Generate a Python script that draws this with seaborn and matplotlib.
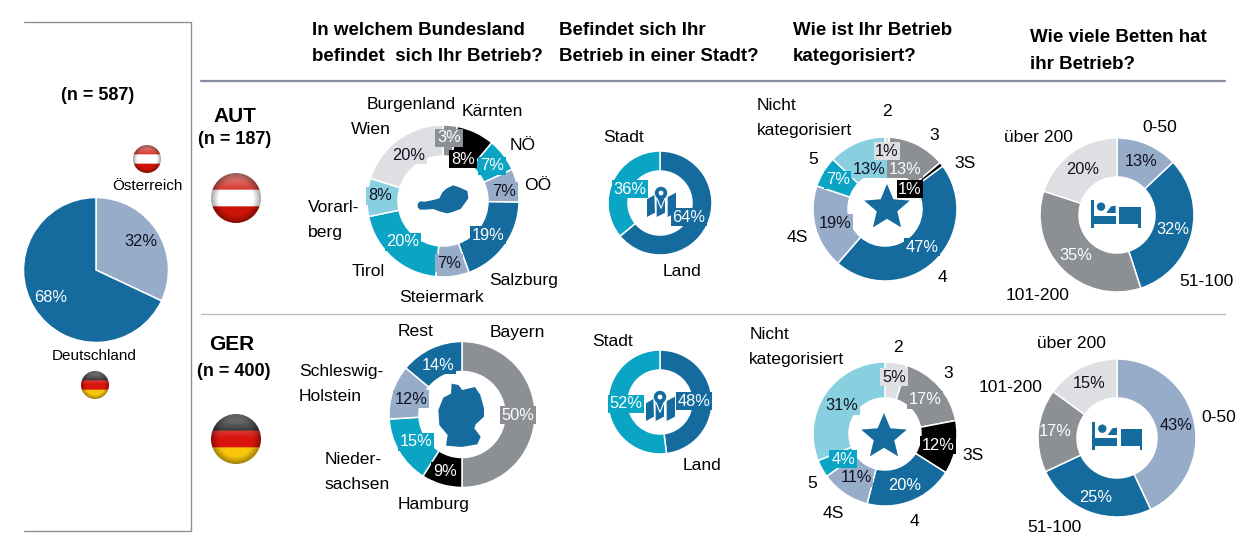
import numpy as np
import seaborn as sns
import matplotlib
matplotlib.use("Agg")
import matplotlib.pyplot as plt
from matplotlib.patches import Circle, Polygon, PathPatch, Rectangle
from matplotlib.path import Path
from matplotlib.transforms import Affine2D

# ---------- data ----------
total_labels = ["Österreich", "Deutschland"]
total_values = [32, 68]

aut_land_labels = ["Burgenland", "Kärnten", "NÖ", "OÖ", "Salzburg", "Steiermark", "Tirol", "Vorarl-\nberg", "Wien"]
aut_land_values = [3, 8, 7, 7, 19, 7, 20, 8, 20]
ger_land_labels = ["Bayern", "Hamburg", "Nieder-\nsachsen", "Schleswig-\nHolstein", "Rest"]
ger_land_values = [50, 9, 15, 12, 14]

stadt_labels = ["Land", "Stadt"]
aut_stadt_values = [64, 36]
ger_stadt_values = [48, 52]

kat_labels = ["2", "3", "3S", "4", "4S", "5", "Nicht\nkategorisiert"]
aut_kat_values = [1, 13, 1, 47, 19, 7, 13]
ger_kat_values = [5, 17, 12, 20, 11, 4, 31]

betten_labels = ["0-50", "51-100", "101-200", "über 200"]
aut_betten_values = [13, 32, 35, 20]
ger_betten_values = [43, 25, 17, 15]

headers = ["In welchem Bundesland\nbefindet  sich Ihr Betrieb?",
           "Befindet sich Ihr\nBetrieb in einer Stadt?",
           "Wie ist Ihr Betrieb\nkategorisiert?",
           "Wie viele Betten hat\nihr Betrieb?"]

# ---------- style ----------
sns.set_theme(style="white")
plt.rcParams["font.family"] = ["Liberation Sans", "DejaVu Sans"]

W, H = 1255, 550
BLUE, STEEL, TEAL, SKY, GREY, LIGHT, BLACK = sns.color_palette(
    ["#156B9E", "#97ACC8", "#0AA5C4", "#88CFE0", "#8C8F94", "#DEDFE2", "#000000"])

fig = plt.figure(figsize=(W / 100, H / 100), dpi=100, facecolor="white")


def donut(values, colors, cx, cy, r, inner=None):
    pad = 1.03
    ax = fig.add_axes([(cx - r * pad) / W, 1 - (cy + r * pad) / H, 2 * r * pad / W, 2 * r * pad / H])
    width = 1 if inner is None else 1 - inner / r
    ax.pie(values, colors=colors, startangle=90, counterclock=False, radius=1,
           wedgeprops=dict(width=width, edgecolor="white", linewidth=1.1))
    ax.set_xlim(-pad, pad)
    ax.set_ylim(-pad, pad)
    ax.axis("off")
    return ax


donut(total_values, [STEEL, BLUE], 96, 270, 72.5)
donut(aut_land_values, [GREY, BLACK, TEAL, STEEL, BLUE, STEEL, TEAL, SKY, LIGHT], 443, 201, 76, 45)
donut(ger_land_values, [GREY, BLACK, TEAL, STEEL, BLUE], 462, 414.5, 73, 43)
donut(aut_stadt_values, [BLUE, TEAL], 660, 203, 52, 32)
donut(ger_stadt_values, [BLUE, TEAL], 660, 402, 52, 32)
kat_colors = [LIGHT, GREY, BLACK, BLUE, STEEL, TEAL, SKY]
donut(aut_kat_values, kat_colors, 885, 209, 72, 37)
donut(ger_kat_values, kat_colors, 885, 434, 72, 36)
bet_colors = [STEEL, BLUE, GREY, LIGHT]
donut(aut_betten_values, bet_colors, 1117, 215, 77, 38)
donut(ger_betten_values, bet_colors, 1117, 438, 79, 40)

# overlay in pixel coordinates for frame, icons, flags and text
ov = fig.add_axes([0, 0, 1, 1], zorder=5)
ov.set_xlim(0, W)
ov.set_ylim(H, 0)
ov.axis("off")
ov.patch.set_alpha(0)

frame = "#8E8F98"
ov.plot([24, 191, 191, 24], [21.5, 21.5, 531, 531], color=frame, lw=1)
ov.plot([201, 1225], [81, 81], color="#878CA0", lw=1.6)
ov.plot([201, 1225], [314, 314], color="#BDBEC2", lw=1)


def flag(cx, cy, r, stripes):
    n = 120
    ys, xs = np.mgrid[-1:1:n * 1j, -1:1:n * 1j]
    img = np.ones((n, n, 3))
    idx = np.clip(((ys + 1) / 2 * 3).astype(int), 0, 2)
    cols = np.array(stripes)
    img[:] = cols[idx]
    # glossy highlight at the top and shading at the edge
    gloss = np.clip(0.55 * (-ys - 0.05), 0, 0.55)[..., None]
    img = img * (1 - gloss) + gloss
    rad = np.sqrt(xs ** 2 + ys ** 2)[..., None]
    img = img * (1 - 0.35 * np.clip(rad - 0.7, 0, 1) / 0.3)
    im = ov.imshow(np.clip(img, 0, 1), extent=(cx - r, cx + r, cy + r, cy - r), zorder=3, aspect="auto",
                   interpolation="bilinear")
    im.set_clip_path(Circle((cx, cy), r, transform=ov.transData))
    ov.set_xlim(0, W)
    ov.set_ylim(H, 0)


AT = [(0.80, 0.08, 0.03), (1, 1, 1), (0.80, 0.08, 0.03)]
DE = [(0.08, 0.08, 0.08), (0.85, 0.08, 0.05), (0.98, 0.78, 0.05)]
flag(147, 159, 14, AT)
flag(236, 198, 25, AT)
flag(236, 439, 25, DE)
flag(95, 385, 14, DE)

# country silhouettes
austria_px = np.array([(38, 86), (45, 79), (60, 80), (85, 75), (103, 70), (112, 52), (125, 40), (145, 31), (165, 38),
                       (187, 48), (190, 70), (178, 87), (167, 102), (140, 112), (125, 115), (100, 108), (85, 102),
                       (60, 104), (45, 104), (38, 97)]) / 3 + (405, 175)
germany_px = np.array([(80, 26), (100, 30), (112, 45), (150, 36), (166, 60), (177, 100), (177, 125), (152, 148),
                       (148, 160), (167, 185), (157, 208), (110, 216), (63, 212), (68, 180), (43, 150), (40, 105),
                       (55, 68), (78, 56)]) / 3 + (425, 375)
ov.add_patch(Polygon(austria_px, color=BLUE, lw=0))
ov.add_patch(Polygon(germany_px, color=BLUE, lw=0))


def map_icon(dx, dy):
    parts = [[(48, 85), (70, 72), (72, 125), (48, 138)],
             [(77, 75), (90, 112), (102, 80), (102, 125), (77, 138)],
             [(110, 78), (135, 65), (135, 125), (110, 138)]]
    for p in parts:
        ov.add_patch(Polygon(np.array(p) / 3 + (630 + dx, 375 + dy), color=BLUE, lw=0))
    pin = np.array([(74, 72), (90, 112), (106, 72)]) / 3 + (630 + dx, 375 + dy)
    ov.add_patch(Polygon(pin, facecolor=BLUE, edgecolor="white", lw=0.8))
    c = np.array((90, 66)) / 3 + (630 + dx, 375 + dy)
    ov.add_patch(Circle(c, 6.2, color=BLUE, lw=0))
    ov.add_patch(Circle(c, 2.4, color="white", lw=0))


map_icon(0, 0)
map_icon(1, -204)


def star(cx, cy, r):
    path = Path.unit_regular_star(5, innerCircle=0.45)
    ov.add_patch(PathPatch(path, transform=Affine2D().scale(r, -r).translate(cx, cy) + ov.transData,
                           color=BLUE, lw=0))


star(887, 208, 24)
star(884, 437, 24)


def bed(dx, dy):
    rects = [(18, 45, 8, 85), (26, 92, 66, 25), (103, 65, 65, 52), (160, 115, 8, 15)]
    for x, y, w, h in rects:
        ov.add_patch(Rectangle((x / 3 + 1085 + dx, y / 3 + 185 + dy), w / 3, h / 3, color=BLUE, lw=0))
    ov.add_patch(Circle((48 / 3 + 1085 + dx, 65 / 3 + 185 + dy), 4.2, color=BLUE, lw=0))
    ov.add_patch(Polygon(np.array([(64, 84), (78, 64), (92, 62), (92, 84)]) / 3 + (1085 + dx, 185 + dy),
                         color=BLUE, lw=0))


bed(0, 0)
bed(1.3, 222)

# ---------- text ----------
FS = 12.6


def t(x, y, s, color="black", ha="center", size=FS, weight="normal", bg=None):
    kw = {}
    if bg is not None:
        kw["bbox"] = dict(facecolor=bg, edgecolor="none", pad=1.2)
    ov.text(x, y, s, color=color, ha=ha, va="center", fontsize=size, fontweight=weight, zorder=8,
            multialignment="left", linespacing=1.8, **kw)


def pct(xy, values, colors, text_colors):
    for (x, y), v, c, tc in zip(xy, values, colors, text_colors):
        t(x, y, f"{v}%", color=tc, bg=c, size=11.8)


def names(xy, labels):
    for (x, y), s in zip(xy, labels):
        t(x, y, s)


w, k = "white", "#111122"
for x, y, s in [(312, 43.5, headers[0]), (559, 43.5, headers[1]), (793, 43.5, headers[2]), (1030, 51, headers[3])]:
    ov.text(x, y, s, ha="left", va="center", fontsize=13.5, fontweight="bold", linespacing=1.7, zorder=8, color="black")

t(98, 95, "(n = 587)", weight="bold", size=13)
t(235, 116, "AUT", weight="bold", size=15)
t(235, 140, "(n = 187)", weight="bold", size=13)
t(232, 345, "GER", weight="bold", size=15)
t(234, 372, "(n = 400)", weight="bold", size=13)

t(147, 186, total_labels[0], size=11)
t(94, 356, total_labels[1], size=11)
pct([(141, 241), (51, 298)], total_values, [None, None], [k, w])

pct([(449, 138), (463, 159), (492, 166), (504, 191), (488, 235), (449, 263), (403, 242), (380, 196), (409, 155)],
    aut_land_values, [GREY, BLACK, TEAL, STEEL, BLUE, STEEL, TEAL, SKY, LIGHT], [w, w, w, k, w, k, w, k, k])
names([(411, 104), (492, 112), (523, 145), (538, 185), (524, 280), (442, 298), (368, 272), (334, 220), (371, 129)],
      aut_land_labels)

pct([(518, 415), (445, 471), (416, 442), (411, 399), (438, 365)],
    ger_land_values, [GREY, BLACK, TEAL, STEEL, BLUE], [w, w, w, k, w])
names([(517, 332), (434, 505), (357, 472), (341, 384), (416, 332)], ger_land_labels)

pct([(689, 217), (630, 189)], aut_stadt_values, [BLUE, TEAL], [w, w])
names([(682, 271), (624, 138)], stadt_labels)
pct([(694, 401), (626, 404)], ger_stadt_values, [BLUE, TEAL], [w, w])
names([(702, 465), (613, 341)], stadt_labels)

tc_kat = [k, w, w, w, k, w, k]
pct([(887, 151), (905, 169), (910, 189), (922, 247), (835, 223), (838, 180), (869, 169)],
    aut_kat_values, kat_colors, tc_kat)
names([(887, 111), (934, 136), (965, 163), (943, 278), (797, 237), (813, 160), (804, 118)], kat_labels)
pct([(894, 377), (925, 400), (938, 445), (905, 486), (856, 478), (843, 459), (842, 406)],
    ger_kat_values, kat_colors, tc_kat)
names([(898, 348), (948, 374), (973, 456), (914, 522), (833, 513), (812, 484), (797, 347)], kat_labels)

tc_bet = [k, w, w, k]
pct([(1141, 161), (1173, 230), (1076, 256), (1083, 169)], aut_betten_values, [None] * 4, tc_bet)
names([(1160, 128), (1206, 282), (1038, 296), (1038, 137)], betten_labels)
pct([(1176, 425), (1096, 497), (1055, 432), (1089, 383)], ger_betten_values, [None] * 4, tc_bet)
names([(1219, 418), (1054, 528), (1011, 387), (1071, 344)], betten_labels)

fig.savefig("out.png", dpi=100, facecolor="white")
